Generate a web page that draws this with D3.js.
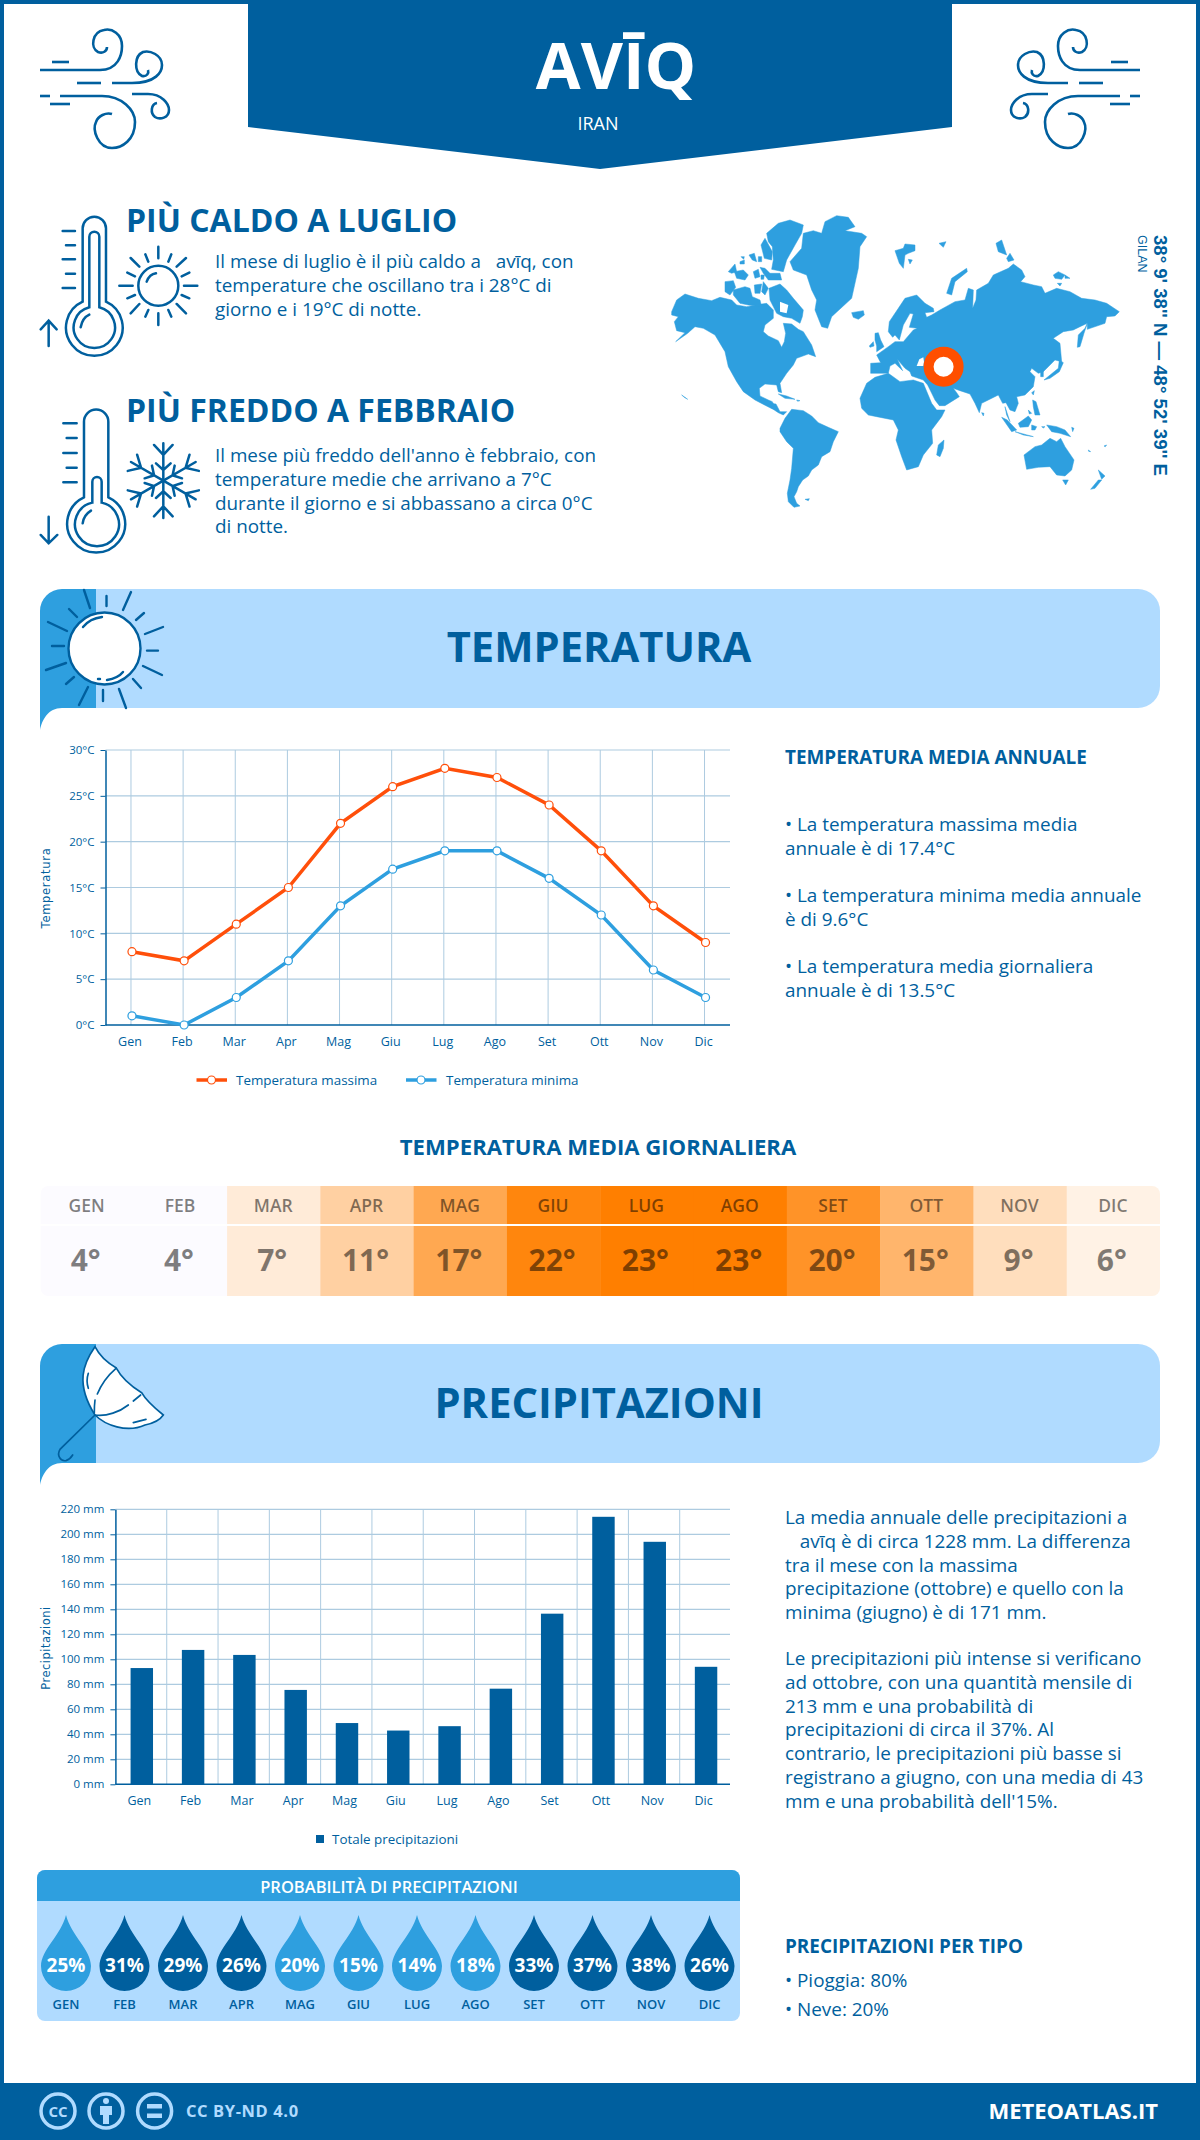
<!DOCTYPE html>
<html>
<head>
<meta charset="utf-8">
<title>Avīq - Meteo Atlas</title>
<script src="https://d3js.org/d3.v7.min.js"></script>
<style>
  body { margin: 0; background: #fff; overflow: hidden; }
  svg { display: block; font-family: "Open Sans", sans-serif; }
  text { white-space: pre; }
</style>
</head>
<body>
<div id="chart"></div>
<script>
// the data
const months = ["Gen","Feb","Mar","Apr","Mag","Giu","Lug","Ago","Set","Ott","Nov","Dic"];
const monthsUpper = ["GEN","FEB","MAR","APR","MAG","GIU","LUG","AGO","SET","OTT","NOV","DIC"];
const tempMax = [8,7,11,15,22,26,28,27,24,19,13,9];
const tempMin = [1,0,3,7,13,17,19,19,16,12,6,3];
const tempMean = [4,4,7,11,17,22,23,23,20,15,9,6];
const precip = [93,107.5,103.5,75.5,49,43,46.5,76.5,136.5,214,194,94];
const rainChance = [25,31,29,26,20,15,14,18,33,37,38,26];
const tempTicks = [0,5,10,15,20,25,30];
const precipTicks = [0,20,40,60,80,100,120,140,160,180,200,220];

const hotText = [
  "Il mese di luglio è il più caldo a   avīq, con",
  "temperature che oscillano tra i 28°C di",
  "giorno e i 19°C di notte."];
const coldText = [
  "Il mese più freddo dell'anno è febbraio, con",
  "temperature medie che arrivano a 7°C",
  "durante il giorno e si abbassano a circa 0°C",
  "di notte."];
const tempNotes = [
  ["• La temperatura massima media", "annuale è di 17.4°C"],
  ["• La temperatura minima media annuale", "è di 9.6°C"],
  ["• La temperatura media giornaliera", "annuale è di 13.5°C"]];
const precipNotes = [
  ["La media annuale delle precipitazioni a", "   avīq è di circa 1228 mm. La differenza", "tra il mese con la massima", "precipitazione (ottobre) e quello con la", "minima (giugno) è di 171 mm."],
  ["Le precipitazioni più intense si verificano", "ad ottobre, con una quantità mensile di", "213 mm e una probabilità di", "precipitazioni di circa il 37%. Al", "contrario, le precipitazioni più basse si", "registrano a giugno, con una media di 43", "mm e una probabilità dell'15%."]];

const darkBlue = "#005f9e", midBlue = "#2e9fdf", lightBlue = "#b0dbff", red = "#ff4f0a", gridCol = "#adcbe0";

const svg = d3.select("#chart").append("svg").attr("width", 1200).attr("height", 2140);

function label(parent, x, y, str, size, opts) {
  opts = opts || {};
  return parent.append("text").attr("x", x).attr("y", y).text(str)
    .attr("font-size", size)
    .attr("font-weight", opts.weight || 400)
    .attr("fill", opts.fill || darkBlue)
    .attr("text-anchor", opts.anchor || "start");
}

// page frame and header
svg.append("rect").attr("x", 2).attr("y", 2).attr("width", 1196).attr("height", 2100)
  .attr("fill", "none").attr("stroke", darkBlue).attr("stroke-width", 4);
svg.append("path").attr("d", "M248,0H952V127L600,169L248,127Z").attr("fill", darkBlue);
label(svg, 616, 89, "AVĪQ", 65, {weight: 700, fill: "#fff", anchor: "middle"});
label(svg, 598, 130, "IRAN", 18, {fill: "#fff", anchor: "middle"});

// wind icons, the right one is the left one flipped
function wind(g) {
  g.attr("fill", "none").attr("stroke", darkBlue).attr("stroke-width", 2.6);
  const d = [
    "M40,70H100C118,70 122,55 122,46C122,34 112,28 104,30C92,32 90,48 98,52C103,54 107,51 107,47",
    "M112,83H132C156,83 162,72 162,65C162,55 150,50 143,52C134,56 134,72 142,76C147,77 149,73 148,70",
    "M52,62H69", "M77,83H101",
    "M40,96H50", "M60,96H102C122,96 135,110 135,122C135,140 122,148 112,148C98,148 92,130 96,122C98,116 106,112 112,114",
    "M132,94H148C162,94 169,104 169,110C169,118 160,120 155,117C150,113 151,104 157,103",
    "M50,104H70"];
  g.selectAll("path").data(d).join("path").attr("d", dd => dd);
}
wind(svg.append("g"));
wind(svg.append("g").attr("transform", "translate(1180,0) scale(-1,1)"));

// thermometers, sun, snowflake - traced in crop pixels, so scaled by a third
const icons = svg.append("g").attr("transform", "translate(20,200) scale(0.3333)")
  .attr("fill", "none").attr("stroke", darkBlue).attr("stroke-width", 7.5).attr("stroke-linecap", "round");
const iconPaths = [
  "M188,305V85A35,35 0 0 1 258,85V305A85,85 0 1 1 188,305Z",
  "M208,322V110A15,15 0 0 1 238,110V322A62,62 0 1 1 208,322Z",
  "M182,382C185,365 195,350 208,344",
  "M128,93H165M138,136H165M128,178H165M138,221H165M128,264H165",
  "M86,438V362M62,388L86,362L110,388",
  "M380,245C385,232 395,222 408,220",
  "M415,140V175M415,340V375M298,257H338M492,257H532M470,200L498,174M358,200L332,174M470,312L498,340M358,312L332,340",
  "M385,185L376,163M445,185L454,163M345,229L322,218M485,229L508,218M345,285L322,295M485,285L508,295M385,330L376,350M445,330L454,350",
  "M192,892V665A36,36 0 0 1 265,665V892A87,87 0 1 1 192,892Z",
  "M217,908V845A14,14 0 0 1 245,845V908A66,66 0 1 1 217,908Z",
  "M188,970C190,955 200,940 213,932",
  "M130,670H170M140,714H170M130,759H170M140,803H170M130,847H170",
  "M86,950V1030M62,1005L86,1030L112,1005"];
icons.selectAll("path.i").data(iconPaths).join("path").attr("class", "i").attr("d", d => d);
icons.append("circle").attr("cx", 415).attr("cy", 257).attr("r", 60);
[0,60,120,180,240,300].forEach(a => {
  icons.append("path").attr("transform", `translate(430,842) rotate(${a})`)
    .attr("d", "M0,0V-112M-28,-107L0,-77L28,-107M-22,-52L0,-32L22,-52");
});

label(svg, 126, 232, "PIÙ CALDO A LUGLIO", 32, {weight: 700});
hotText.forEach((t, i) => label(svg, 215, 268 + i * 23.8, t, 18.85));
label(svg, 126, 422, "PIÙ FREDDO A FEBBRAIO", 32, {weight: 700});
coldText.forEach((t, i) => label(svg, 215, 462 + i * 23.8, t, 18.85));

const landWest = [
  [[20,305],[35,270],[60,252],[100,265],[140,272],[165,262],[200,270],[215,285],[245,290],[290,282],[305,280],[325,300],[325,325],[300,345],[295,365],[310,378],[340,392],[350,412],[358,395],[362,370],[355,340],[380,342],[400,358],[415,365],[440,405],[452,440],[430,432],[395,445],[385,465],[365,490],[345,520],[350,548],[340,545],[335,525],[300,522],[283,535],[285,558],[310,570],[322,575],[335,600],[318,595],[270,570],[235,545],[215,515],[190,470],[180,425],[150,375],[115,355],[90,350],[68,370],[32,395],[60,368],[35,362],[28,335],[40,320],[20,315]],
  [[305,70],[340,40],[375,30],[415,45],[410,70],[390,105],[365,150],[355,185],[320,178],[325,150],[322,110],[310,95]],
  [[288,105],[300,85],[322,125],[320,150],[298,145]],
  [[375,155],[410,115],[415,70],[445,62],[470,70],[480,35],[515,17],[550,22],[570,50],[540,62],[590,70],[605,80],[585,110],[580,175],[560,265],[500,320],[488,355],[470,350],[450,300],[455,270],[440,240],[425,195],[385,180]],
  [[560,308],[595,302],[598,315],[580,328],[565,322]],
  [[312,235],[345,222],[365,240],[385,265],[415,300],[412,320],[405,340],[380,325],[355,320],[335,310],[315,270]],
  [[205,240],[240,230],[255,235],[262,260],[285,270],[290,290],[250,285],[225,280],[205,255]],
  [[180,215],[205,212],[212,232],[195,255],[180,245]],
  [[268,225],[290,222],[285,250],[270,250]],
  [[295,215],[310,235],[300,255],[290,245]],
  [[190,185],[210,162],[215,185],[200,190]],
  [[208,185],[235,180],[250,195],[240,210],[215,205]],
  [[265,185],[280,178],[285,200],[270,205]],
  [[285,172],[300,175],[315,190],[345,190],[350,210],[310,210],[295,190]],
  [[252,135],[268,130],[275,155],[262,150]],
  [[225,155],[238,150],[238,162],[225,162]],
  [[228,140],[238,140],[236,148]],
  [[280,140],[290,140],[290,155],[280,155]],
  [[288,195],[298,195],[296,208],[288,208]],
  [[340,552],[365,558],[390,568],[360,565]],
  [[395,570],[405,572],[398,574]],
  [[50,555],[68,568],[58,562]]
];
const landSouth = [
  [[30,85],[45,55],[65,28],[100,32],[125,48],[145,68],[175,82],[205,95],[190,125],[180,155],[155,170],[145,195],[125,210],[115,228],[98,240],[85,260],[80,275],[72,290],[80,310],[90,318],[72,322],[55,305],[52,280],[60,240],[65,205],[70,145],[50,125],[30,95]],
  [[0,10],[18,12],[30,35],[50,35],[40,45],[25,38],[5,25]],
  [[105,298],[118,296],[115,302]]
];
const landCentre = [
  // eurasia, the east part is carried over from the next crop
  [[85,275],[88,245],[115,205],[135,175],[170,165],[195,190],[220,205],[222,215],[195,218],[200,232],[215,225],[240,210],[285,185],[315,180],[325,145],[340,150],[338,205],[348,180],[350,150],[385,130],[400,105],[445,85],[460,72],[485,90],[495,110],[482,125],[520,135],[545,140],[555,160],[590,145],[630,155],[665,175],[705,180],[740,190],[778,215],[765,228],[740,230],[735,250],[682,268],[682,250],[660,260],[640,270],[610,275],[580,295],[600,310],[605,365],[585,360],[550,395],[535,400],[515,385],[510,395],[525,410],[520,440],[495,465],[470,470],[475,490],[465,515],[450,510],[438,488],[428,490],[415,465],[385,480],[365,490],[358,518],[345,490],[330,462],[300,452],[280,445],[290,458],[298,470],[255,497],[238,497],[225,480],[203,435],[190,420],[155,408],[150,395],[135,385],[112,358],[128,392],[105,370],[90,378],[85,400],[32,400],[32,370],[62,368],[50,345],[85,320],[105,305],[130,305],[160,270],[172,265],[148,262],[160,222],[150,220],[130,255],[118,300],[105,285],[98,292]],
  [[105,32],[130,25],[135,12],[165,15],[165,32],[145,40],[135,45],[130,85],[118,70]],
  [[145,58],[157,60],[150,72]],
  [[237,10],[258,5],[250,22]],
  [[260,160],[275,115],[320,85],[322,95],[285,125],[275,165]],
  [[408,10],[425,0],[440,45],[415,35]],
  [[440,55],[450,40],[462,60],[445,65]],
  [[45,280],[55,278],[62,300],[72,320],[50,335],[50,318],[45,300]],
  [[28,318],[40,305],[42,318],[30,322]],
  [[0,475],[20,430],[45,412],[85,400],[120,425],[160,420],[190,430],[215,490],[230,510],[255,510],[245,530],[215,570],[218,610],[190,645],[175,680],[140,690],[125,650],[108,600],[115,570],[100,540],[50,530],[25,525],[5,505]],
  [[230,645],[235,615],[252,600],[250,625],[240,650]],
  [[365,518],[372,520],[370,528]]
];
const landEast = [
  [[232,352],[235,315],[255,295],[262,280],[252,310],[240,350]],
  [[160,135],[175,125],[195,135],[185,148],[165,145]],
  [[195,135],[210,145],[195,145]],
  [[172,160],[185,160],[180,168]],
  [[132,450],[175,415],[178,390],[190,398],[178,425],[150,445]],
  [[122,420],[130,415],[130,440],[122,440]],
  [[95,488],[103,482],[100,495]],
  [[5,562],[22,570],[50,600],[35,605]],
  [[45,605],[100,620],[70,615]],
  [[15,530],[30,575],[20,555]],
  [[55,580],[85,558],[95,570],[85,590],[60,592]],
  [[98,510],[108,515],[120,555],[105,555],[100,530]],
  [[85,540],[95,550],[88,552]],
  [[95,585],[110,590],[105,600],[95,600]],
  [[140,585],[170,590],[195,600],[212,620],[180,610],[155,605]],
  [[215,592],[222,595],[218,605]],
  [[125,590],[135,590],[130,594]],
  [[265,660],[272,665],[266,664]],
  [[312,648],[320,645],[316,650]],
  [[72,675],[105,650],[125,645],[150,625],[170,635],[182,625],[195,650],[222,690],[215,720],[195,738],[170,735],[150,710],[115,712],[80,718]],
  [[188,750],[205,750],[197,765]],
  [[272,778],[295,750],[305,750],[285,775]],
  [[295,720],[315,738],[305,748]]
];
const landLine = d3.line().curve(d3.curveLinearClosed);
[[landWest, 665, 210], [landSouth, 770, 400], [landCentre, 860, 240], [landEast, 1000, 230]].forEach(([polys, ox, oy]) => {
  svg.append("g").attr("transform", `translate(${ox},${oy}) scale(0.3333)`)
    .selectAll("path").data(polys).join("path").attr("d", landLine)
    .attr("fill", midBlue).attr("stroke", midBlue).attr("stroke-width", 1.5).attr("stroke-linejoin", "round");
});
// the water inside the land
svg.append("path").attr("transform", "translate(665,210) scale(0.3333)")
  .attr("d", "M345,275L370,285L365,310L345,305Z").attr("fill", "#fff");
svg.append("path").attr("transform", "translate(860,240) scale(0.3333)")
  .attr("d", "M170,378L178,358L190,352L192,365L190,378Z").attr("fill", "#fff");
svg.append("circle").attr("cx", 943.6).attr("cy", 366.7).attr("r", 15).attr("fill", "#fff")
  .attr("stroke", "#ff4f00").attr("stroke-width", 10);

const coord = svg.append("g").attr("font-family", "Liberation Sans");
coord.append("text").attr("transform", "translate(1154,235) rotate(90)")
  .attr("font-size", 18.6).attr("font-weight", 700).attr("fill", darkBlue).text("38° 9' 38'' N — 48° 52' 39'' E");
coord.append("text").attr("transform", "translate(1137.5,235) rotate(90)")
  .attr("font-size", 12.5).attr("fill", darkBlue).text("GILAN");

// section banner with the small tail at the lower left
function banner(top, title, baseline) {
  const bottom = top + 119, tail = top + 141;
  const g = svg.append("g");
  g.append("path").attr("fill", lightBlue)
    .attr("d", `M62,${bottom}H1138A22,22 0 0 0 1160,${bottom - 22}V${top + 22}A22,22 0 0 0 1138,${top}H62Z`);
  g.append("path").attr("fill", midBlue)
    .attr("d", `M40,${tail}C42,${tail - 10} 48,${bottom} 62,${bottom}H96V${top}H62A22,22 0 0 0 40,${top + 22}Z`);
  label(g, 599, baseline, title, 41.7, {weight: 700, anchor: "middle"});
}
banner(589, "TEMPERATURA", 662);
banner(1344, "PRECIPITAZIONI", 1418);

// banner sun
const sunG = svg.append("g").attr("fill", "none").attr("stroke", darkBlue).attr("stroke-width", 2.4).attr("stroke-linecap", "round");
sunG.append("path").attr("d", "M84,590L90,608M106.5,596V606M131,592L123,610M144,613L136,620M163,627L145,634M158,650.6H147M162,675L143,666M141,688L133,679M126,708L119,689M103,701V690M79,705L88,687M66,684L74,677M46,670L66,663M52,646H64M48,622L67,631M69,609L77,617");
sunG.append("circle").attr("cx", 104.5).attr("cy", 648.5).attr("r", 36).attr("fill", "#fff");
sunG.append("path").attr("d", "M83,627C87,622 94,618 102,617M98,679H100M107,680C113,679 119,677 123,672");

// banner umbrella, crop pixels again
const umb = svg.append("g").attr("transform", "translate(40,1340) scale(0.3333)")
  .attr("fill", "none").attr("stroke", darkBlue).attr("stroke-width", 5).attr("stroke-linecap", "round");
umb.append("path").attr("d", "M165,225L60,328C50,345 60,365 78,362C90,358 95,350 98,345");
umb.append("path").attr("fill", "#fff")
  .attr("d", "M165,20C130,70 105,130 165,225C195,255 260,280 315,255C340,250 360,240 370,225C345,205 320,185 305,158C275,140 245,115 228,83C205,70 180,50 165,20Z");
umb.append("path").attr("d", "M228,85C205,105 185,130 172,162M165,180C163,195 163,205 163,218M165,225C200,230 240,215 265,195M280,183L302,165M145,100C140,115 140,130 145,145M280,248L318,238");

// shared axis look
function styleAxes(g) {
  g.selectAll("text").attr("fill", darkBlue).attr("font-family", "Open Sans");
  g.selectAll(".domain").attr("stroke", darkBlue).attr("stroke-width", 1.5);
}

// temperature line chart
const tx = d3.scalePoint().domain(months).range([105.9, 731.6]).padding(0.5);
const ty = d3.scaleLinear().domain([0, 30]).range([1025, 750]);
const tChart = svg.append("g");
tChart.append("g").selectAll("line").data(months).join("line")
  .attr("x1", d => tx(d) - 1).attr("x2", d => tx(d) - 1).attr("y1", 750).attr("y2", 1025).attr("stroke", gridCol);
tChart.append("g").selectAll("line").data(tempTicks.slice(1)).join("line")
  .attr("x1", 105.5).attr("x2", 730).attr("y1", d => ty(d)).attr("y2", d => ty(d)).attr("stroke", gridCol).attr("stroke-width", 1.2);
const tLeft = tChart.append("g").attr("transform", "translate(105.5,0)")
  .call(d3.axisLeft(ty).tickValues(tempTicks).tickFormat(d => d + "°C").tickSize(5).tickSizeOuter(0));
tLeft.selectAll("text").attr("font-size", 11.5).attr("x", -11);
tLeft.selectAll("line").attr("stroke", darkBlue);
const tBottom = tChart.append("g").attr("transform", "translate(0,1025)")
  .call(d3.axisBottom(tx).tickSize(0).tickSizeOuter(0));
tBottom.selectAll("text").attr("font-size", 12.5).attr("dx", -2.5).attr("y", 12).attr("dy", "0.71em");
styleAxes(tLeft); styleAxes(tBottom);
tBottom.select(".domain").attr("d", "M105.5,0H730");

const tLine = d3.line().x((d, i) => tx(months[i])).y(d => ty(d));
[[tempMax, red], [tempMin, midBlue]].forEach(([vals, col]) => {
  tChart.append("path").datum(vals).attr("d", tLine).attr("fill", "none").attr("stroke", col).attr("stroke-width", 3.5);
  tChart.append("g").selectAll("circle").data(vals).join("circle")
    .attr("cx", (d, i) => tx(months[i])).attr("cy", d => ty(d)).attr("r", 4)
    .attr("fill", "#fff").attr("stroke", col).attr("stroke-width", 1.2);
});
svg.append("text").attr("transform", "translate(50,888) rotate(-90)").attr("text-anchor", "middle")
  .attr("font-family", "DejaVu Sans").attr("font-size", 11.5).attr("letter-spacing", 0.7).attr("fill", darkBlue).text("Temperatura");

// temperature legend
[[196.5, red, 236, "Temperatura massima"], [406, midBlue, 446, "Temperatura minima"]].forEach(([x, col, tx2, name]) => {
  svg.append("line").attr("x1", x).attr("x2", x + 30.5).attr("y1", 1080).attr("y2", 1080).attr("stroke", col).attr("stroke-width", 3.5);
  svg.append("circle").attr("cx", x + 15).attr("cy", 1080).attr("r", 4).attr("fill", "#fff").attr("stroke", col).attr("stroke-width", 1.2);
  label(svg, tx2, 1085, name, 13.4);
});

// notes right of the temperature chart
label(svg, 785, 764, "TEMPERATURA MEDIA ANNUALE", 18.9, {weight: 700});
tempNotes.forEach((lines, i) => lines.forEach((t, j) => label(svg, 785, 831 + i * 71 + j * 23.8, t, 18.9)));

// daily mean table
label(svg, 598, 1155, "TEMPERATURA MEDIA GIORNALIERA", 22.15, {weight: 700, anchor: "middle"});
const cellX = d3.scaleBand().domain(monthsUpper).range([40.5, 1160]);
const cellCol = d3.scaleLinear().domain([4, 6, 23]).range(["#fcfbff", "#fff2e5", "#ff7f00"]);
svg.append("clipPath").attr("id", "tableClip").append("rect")
  .attr("x", 40.5).attr("y", 1186).attr("width", 1119.5).attr("height", 110).attr("rx", 8);
const table = svg.append("g").attr("clip-path", "url(#tableClip)");
table.selectAll("rect").data(monthsUpper).join("rect")
  .attr("x", d => cellX(d)).attr("y", 1186).attr("width", cellX.bandwidth() + 0.5).attr("height", 110)
  .attr("fill", (d, i) => cellCol(tempMean[i]));
table.append("line").attr("x1", 40).attr("x2", 1160).attr("y1", 1225).attr("y2", 1225).attr("stroke", "#fff").attr("stroke-width", 2);
monthsUpper.forEach((m, i) => {
  const c = cellX(m) + cellX.bandwidth() / 2 - 0.5;
  label(svg, c, 1212, m, 17.5, {weight: 600, fill: "#000", anchor: "middle"}).attr("fill-opacity", 0.5);
  label(svg, c - 1, 1271, tempMean[i] + "°", 30, {weight: 700, fill: "#000", anchor: "middle"}).attr("fill-opacity", 0.5);
});

// precipitation bars
const px = d3.scaleBand().domain(months).range([116.15, 731.7]).paddingInner(0.5625).paddingOuter(0.28125);
const py = d3.scaleLinear().domain([0, 220]).range([1784.3, 1509.3]);
const pChart = svg.append("g");
pChart.append("g").selectAll("line").data(months.slice(1)).join("line")
  .attr("x1", d => px(d) - px.step() * 0.28125 - 0.7).attr("x2", d => px(d) - px.step() * 0.28125 - 0.7)
  .attr("y1", 1509.3).attr("y2", 1784.3).attr("stroke", gridCol);
pChart.append("g").selectAll("line").data(precipTicks.slice(1)).join("line")
  .attr("x1", 115.4).attr("x2", 730).attr("y1", d => py(d)).attr("y2", d => py(d)).attr("stroke", gridCol).attr("stroke-width", 1.2);
pChart.append("g").selectAll("rect").data(precip).join("rect")
  .attr("x", (d, i) => px(months[i])).attr("width", px.bandwidth())
  .attr("y", d => py(d)).attr("height", d => py(0) - py(d)).attr("fill", darkBlue);
const pLeft = pChart.append("g").attr("transform", "translate(115.4,0)")
  .call(d3.axisLeft(py).tickValues(precipTicks).tickFormat(d => d + " mm").tickSize(5).tickSizeOuter(0));
pLeft.selectAll("text").attr("font-size", 11.5).attr("x", -11);
pLeft.selectAll("line").attr("stroke", darkBlue);
const pBottom = pChart.append("g").attr("transform", "translate(0,1784.3)")
  .call(d3.axisBottom(px).tickSize(0).tickSizeOuter(0));
pBottom.selectAll("text").attr("font-size", 12.5).attr("dx", -2.5).attr("y", 12).attr("dy", "0.71em");
styleAxes(pLeft); styleAxes(pBottom);
pBottom.select(".domain").attr("d", "M115.4,0H730");
svg.append("text").attr("transform", "translate(50,1648) rotate(-90)").attr("text-anchor", "middle")
  .attr("font-family", "DejaVu Sans").attr("font-size", 11.5).attr("letter-spacing", 0.5).attr("fill", darkBlue).text("Precipitazioni");
svg.append("rect").attr("x", 316).attr("y", 1835).attr("width", 8).attr("height", 8).attr("fill", darkBlue);
label(svg, 332, 1844, "Totale precipitazioni", 13.4);

// notes right of the bars
precipNotes[0].forEach((t, i) => label(svg, 785, 1524 + i * 23.8, t, 18.9));
precipNotes[1].forEach((t, i) => label(svg, 785, 1665 + i * 23.8, t, 18.9));

// rain chance box
svg.append("rect").attr("x", 37).attr("y", 1870).attr("width", 703).attr("height", 151).attr("rx", 8).attr("fill", lightBlue);
svg.append("path").attr("d", "M37,1901V1878A8,8 0 0 1 45,1870H732A8,8 0 0 1 740,1878V1901Z").attr("fill", midBlue);
label(svg, 389, 1893, "PROBABILITÀ DI PRECIPITAZIONI", 16.5, {weight: 600, fill: "#fff", anchor: "middle"});
const dropX = d3.scalePoint().domain(monthsUpper).range([66, 709.5]);
const dropCol = d3.scaleThreshold().domain([26]).range([midBlue, darkBlue]);
const drops = svg.append("g").selectAll("g").data(monthsUpper).join("g")
  .attr("transform", d => `translate(${dropX(d)},0)`);
drops.append("path").attr("fill", (d, i) => dropCol(rainChance[i]))
  .attr("d", "M0,1915C5,1935 25,1950 25,1966A25,25 0 0 1 -25,1966C-25,1950 -5,1935 0,1915Z");
drops.append("text").attr("text-anchor", "middle").attr("y", 1972).attr("font-size", 19).attr("font-weight", 700)
  .attr("fill", "#fff").text((d, i) => rainChance[i] + "%");
drops.append("text").attr("text-anchor", "middle").attr("y", 2009).attr("font-size", 13).attr("font-weight", 600)
  .attr("fill", darkBlue).text(d => d);

label(svg, 785, 1953, "PRECIPITAZIONI PER TIPO", 18.9, {weight: 700});
label(svg, 785, 1987, "• Pioggia: 80%", 18.9);
label(svg, 785, 2016, "• Neve: 20%", 18.9);

// footer
svg.append("rect").attr("x", 0).attr("y", 2083).attr("width", 1200).attr("height", 57).attr("fill", darkBlue);
const cc = svg.append("g").attr("fill", "none").attr("stroke", lightBlue).attr("stroke-width", 3.5);
[58, 106, 154.6].forEach(x => cc.append("circle").attr("cx", x).attr("cy", 2111).attr("r", 17));
label(svg, 58, 2116.5, "CC", 15, {weight: 700, fill: lightBlue, anchor: "middle"});
svg.append("circle").attr("cx", 106).attr("cy", 2101).attr("r", 3).attr("fill", lightBlue);
svg.append("path").attr("d", "M100,2106H112V2115H109V2124H103V2115H100Z").attr("fill", lightBlue);
svg.append("path").attr("d", "M147,2104H162V2108.5H147ZM147,2113.5H162V2118H147Z").attr("fill", lightBlue);
label(svg, 186, 2117, "CC BY-ND 4.0", 16.5, {weight: 700, fill: lightBlue}).attr("letter-spacing", 0.6);
label(svg, 1158, 2119, "METEOATLAS.IT", 22, {weight: 700, fill: "#fff", anchor: "end"});
</script>
</body>
</html>
